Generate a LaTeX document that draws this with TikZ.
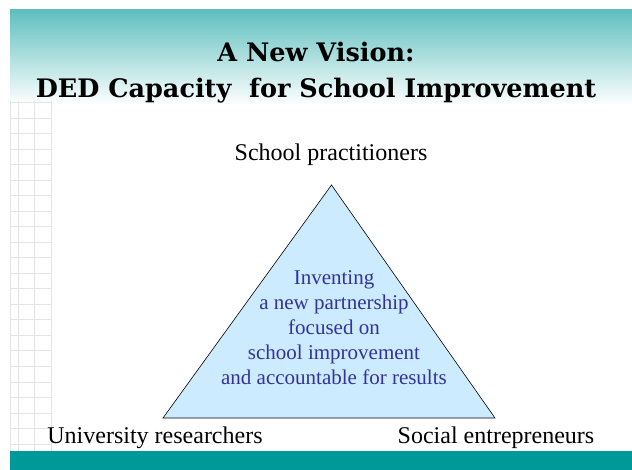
\documentclass[tikz,border=0pt]{standalone}
\usepackage{fontspec}
\setmainfont{Liberation Serif}
\newfontfamily\headfont{DejaVu Serif}
\usepackage{tikz}
\definecolor{tealtop}{HTML}{5FBFBF}
\definecolor{tealbar}{HTML}{009999}
\definecolor{gridgray}{HTML}{E4E4E4}
\definecolor{trifill}{HTML}{CCEBFF}
\definecolor{tritext}{HTML}{333399}
\tikzset{
  corner/.style={font=\fontsize{24}{26}\selectfont},
  titletext/.style={font=\headfont\bfseries\fontsize{25.5}{36}\selectfont, align=center},
  innertext/.style={font=\fontsize{21}{25}\selectfont, text=tritext, align=center}
}

\begin{document}
\begin{tikzpicture}[x=1pt,y=-1pt]
            \useasboundingbox (0,0) rectangle (632,470);
            % slide background
            \shade[top color=tealtop, bottom color=white] (10,10) rectangle (632,105);
            \fill[tealbar] (10,451) rectangle (632,470);
            % grid on the left
            \foreach \x in {10,18,34,51}
                \draw[gridgray, line width=1pt] (\x,101) -- (\x,451);
            \foreach \y in {103,118.5,...,450}
                \draw[gridgray, line width=1pt] (10,\y) -- (52,\y);
            % title
            \node[titletext] (title) at (316,73) {A New Vision:\\DED Capacity\ \ for School Improvement};
            % triangle
            \coordinate (apex) at (331.5,185);
            \coordinate (left) at (163,418);
            \coordinate (right) at (495,418);
            \draw[fill=trifill, line width=0.6pt] (apex) -- (right) -- (left) -- cycle;
            \node[innertext] (idea) at (334,328) {Inventing\\a new partnership\\focused on\\school improvement\\and accountable for results};
            % the three groups
            \node[corner] (school) at (331,155) {School practitioners};
            \node[corner] (univ) at (155,438) {University researchers};
            \node[corner] (social) at (496,438) {Social entrepreneurs};
        \end{tikzpicture}
\end{document}
